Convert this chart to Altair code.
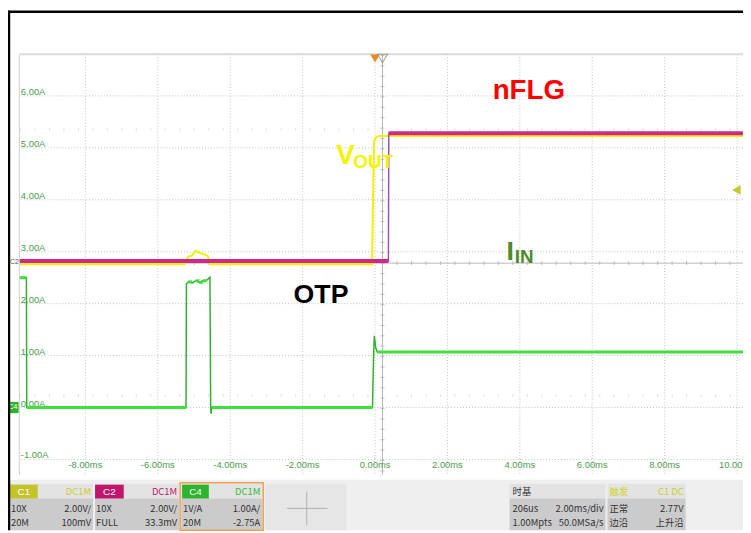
import altair as alt
import pandas as pd

# ---------------- data (time in ms, amplitude in C4 screen units = A) -------------
x_ticks = [-8, -6, -4, -2, 0, 2, 4, 6, 8, 10]
x_tick_labels = ["-8.00ms", "-6.00ms", "-4.00ms", "-2.00ms", "0.00ms",
                 "2.00ms", "4.00ms", "6.00ms", "8.00ms", "10.00ms"]
y_ticks = [6, 5, 4, 3, 2, 1, 0, -1]
y_tick_labels = ["6.00A", "5.00A", "4.00A", "3.00A", "2.00A", "1.00A", "0.00A", "-1.00A"]

# C2 : nFLG (magenta)
nflg_t = [-9.81, 0.37, 0.38, 10.16]
nflg_v = [2.82, 2.82, 5.28, 5.28]

# C1 : VOUT (yellow)
vout_t = [-9.81, -5.25, -5.17, -5.05, -4.95, -4.85, -4.72, -4.62, -4.55,
          -0.082, -0.05, -0.027, 0.02, 0.11, 10.16]
vout_v = [2.76, 2.76, 2.90, 2.93, 3.02, 2.98, 2.95, 2.92, 2.76,
          2.76, 4.20, 5.12, 5.20, 5.23, 5.23]

# C4 : IIN (green)
iin_t = [-9.81, -9.63, -9.62, -5.22, -5.21, -5.15, -5.05, -4.95, -4.85, -4.75,
         -4.65, -4.56, -4.54, -4.53, -4.51, -0.07, -0.04, -0.02, 0.02, 0.06, 10.16]
iin_v = [2.50, 2.50, 0.0, 0.0, 2.38, 2.42, 2.40, 2.44, 2.41, 2.44,
         2.45, 2.51, 0.0, -0.12, 0.0, 0.0, 1.00, 1.38, 1.15, 1.07, 1.07]

# annotations
ann_text = ["nFLG", "OTP", "V", "OUT", "I", "IN"]
ann_t = [3.25, -2.25, -1.07, -0.60, 3.63, 3.86]
ann_v = [5.94, 2.02, 4.686, 4.61, 2.84, 2.79]

# scope graticule
center_t = 0.206
center_v = 2.78
trigger_level_v = 4.19

# info panel texts
panel_left = ["10X", "20M", "10X", "FULL", "1V/A", "20M", "时基", "206us", "1.00Mpts", "正常", "边沿"]
panel_right = ["DC1M", "2.00V/", "100mV", "DC1M", "2.00V/", "33.3mV", "DC1M", "1.00A/", "-2.75A",
               "2.00ms/div", "50.0MSa/s", "C1 DC", "2.77V", "上升沿"]

FONT = "Liberation Sans, Arial, 'Noto Sans CJK SC', sans-serif"
CJK = "'Noto Sans CJK SC', Liberation Sans, sans-serif"

W, H = 731, 425
OX, OY = 20, 52   # page position of plot origin

xs = alt.Scale(domain=[-9.81, 10.164], nice=False, zero=False)
ys = alt.Scale(domain=[-1.295, 6.8], nice=False, zero=False)
X = lambda f: alt.X(f, type="quantitative", scale=xs, axis=None)
Y = lambda f: alt.Y(f, type="quantitative", scale=ys, axis=None)
X2 = lambda f: alt.X2(f)

def series(ts, vs):
    return pd.DataFrame({"t": ts, "v": vs, "i": range(len(ts))})

def flats(ts, vs, tol=0.03):
    rows = []
    for i in range(len(ts) - 1):
        if abs(vs[i + 1] - vs[i]) < tol and (ts[i + 1] - ts[i]) > 0.05:
            rows.append({"t0": ts[i], "t1": ts[i + 1], "v": vs[i]})
    return pd.DataFrame(rows)

# ---------------- graticule ----------------
vgrid = alt.Chart(pd.DataFrame({"t": x_ticks})).mark_rule(
    color="#c2c2c2", strokeDash=[1, 2], strokeWidth=1).encode(x=X("t"))
hgrid = alt.Chart(pd.DataFrame({"v": y_ticks})).mark_rule(
    color="#c2c2c2", strokeDash=[1, 2], strokeWidth=1).encode(y=Y("v"))

frame_top = alt.Chart(pd.DataFrame({"a": [0]})).mark_rule(color="#dadada", strokeWidth=2).encode(
    x=alt.value(0), x2=alt.value(W), y=alt.value(0))
frame_left = alt.Chart(pd.DataFrame({"a": [0]})).mark_rule(color="#d0d0d0", strokeWidth=1).encode(
    x=alt.value(-0.5), y=alt.value(0), y2=alt.value(H))

cen_h = alt.Chart(pd.DataFrame({"v": [center_v]})).mark_rule(color="#b8b8b8", strokeWidth=1).encode(y=Y("v"))
cen_v = alt.Chart(pd.DataFrame({"t": [center_t]})).mark_rule(color="#b8b8b8", strokeWidth=1).encode(x=X("t"))

htick_t = [center_t + 0.4 * k for k in range(-25, 25) if -9.8 < center_t + 0.4 * k < 10.16]
vtick_v = [center_v + 0.2 * k for k in range(-21, 21) if -1.29 < center_v + 0.2 * k < 6.8]
hticks = alt.Chart(pd.DataFrame({"t": htick_t, "v": [center_v] * len(htick_t)})).mark_point(
    shape="M0,-1L0,1", size=16, stroke="#a8a8a8", strokeWidth=1, filled=False).encode(x=X("t"), y=Y("v"))
vticks = alt.Chart(pd.DataFrame({"t": [center_t] * len(vtick_v), "v": vtick_v})).mark_point(
    shape="M-1,0L1,0", size=16, stroke="#a8a8a8", strokeWidth=1, filled=False).encode(x=X("t"), y=Y("v"))
faint_rows = pd.DataFrame({"t": htick_t * 2,
                           "v": [center_v + 2.57] * len(htick_t) + [center_v - 2.55] * len(htick_t)})
fticks = alt.Chart(faint_rows).mark_point(
    shape="M0,-1L0,1", size=9, stroke="#d4d4d4", strokeWidth=1, filled=False).encode(x=X("t"), y=Y("v"))

ylab = alt.Chart(pd.DataFrame({"v": y_ticks, "lab": y_tick_labels})).mark_text(
    align="left", baseline="alphabetic", dy=-1, font=FONT, fontSize=9.5, color="#4aa04a").encode(
    x=alt.value(1), y=Y("v"), text="lab:N")
xlab = alt.Chart(pd.DataFrame({"t": x_ticks, "lab": x_tick_labels})).mark_text(
    align="center", baseline="middle", font=FONT, fontSize=9.5, color="#4aa04a").encode(
    x=X("t"), y=alt.value(415), text="lab:N")

# ---------------- traces ----------------
vout_line = alt.Chart(series(vout_t, vout_v)).mark_line(color="#f2f200", strokeWidth=2).encode(
    x=X("t"), y=Y("v"), order="i:Q")
nflg_line = alt.Chart(series(nflg_t, nflg_v)).mark_line(color="#9a55a8", strokeWidth=1.5).encode(
    x=X("t"), y=Y("v"), order="i:Q")
nflg_flat = alt.Chart(flats(nflg_t, nflg_v)).mark_rule(color="#cf2a8a", strokeWidth=4).encode(
    x=X("t0"), x2=X2("t1"), y=Y("v"))
iin_line = alt.Chart(series(iin_t, iin_v)).mark_line(color="#30b030", strokeWidth=1.5).encode(
    x=X("t"), y=Y("v"), order="i:Q")
iin_flat = alt.Chart(flats(iin_t, iin_v)).mark_rule(color="#3ee03e", strokeWidth=3).encode(
    x=X("t0"), x2=X2("t1"), y=Y("v"))

# markers
trig = alt.Chart(pd.DataFrame({"t": [0.0], "v": [6.72]})).mark_point(
    shape="triangle-down", size=90, filled=True, color="#f08a20", opacity=1).encode(x=X("t"), y=Y("v"))
trig2 = alt.Chart(pd.DataFrame({"t": [center_t], "v": [6.72]})).mark_point(
    shape="triangle-down", size=100, filled=False, stroke="#8f9070", strokeWidth=1.2).encode(x=X("t"), y=Y("v"))
lvl = alt.Chart(pd.DataFrame({"t": [9.98], "v": [trigger_level_v]})).mark_point(
    shape="triangle-left", size=100, filled=True, color="#c8c832", opacity=1).encode(x=X("t"), y=Y("v"))
c2mark = alt.Chart(pd.DataFrame({"v": [2.80], "lab": ["C2"]})).mark_text(
    align="left", baseline="middle", font=FONT, fontSize=7, color="#555555").encode(
    x=alt.value(-10), y=Y("v"), text="lab:N")
c4chip = alt.Chart(pd.DataFrame({"v": [0.0]})).mark_square(size=130, color="#2cb52c", opacity=1).encode(
    x=alt.value(-7), y=Y("v"))
c4text = alt.Chart(pd.DataFrame({"v": [0.0], "lab": ["C4"]})).mark_text(
    align="center", baseline="middle", font=FONT, fontSize=7, color="white").encode(
    x=alt.value(-7), y=Y("v"), text="lab:N")

# annotations
ann = pd.DataFrame({"t": ann_t, "v": ann_v, "lab": ann_text})
def ann_layer(i, size, color):
    return alt.Chart(ann.iloc[[i]]).mark_text(
        align="left", baseline="alphabetic", font=FONT, fontWeight="bold", fontSize=size, color=color).encode(
        x=X("t"), y=Y("v"), text="lab:N")

anns = [ann_layer(0, 28, "#ff0000"), ann_layer(1, 27, "#000000"),
        ann_layer(2, 28, "#f4f400"), ann_layer(3, 19, "#f4f400"),
        ann_layer(4, 27, "#4c8a2c"), ann_layer(5, 19, "#4c8a2c")]

# ---------------- border & info panel (page pixel layout) ----------------
rects = pd.DataFrame([
    # x0, x1, y0, y1, fill  (page px)
    (8, 751, 482, 533, "#efefef"),
    (10, 94, 486, 501, "#e3e3e3"), (10, 94, 501, 533, "#cbcbcb"),
    (96, 181, 486, 501, "#e3e3e3"), (96, 181, 501, 533, "#cbcbcb"),
    (183, 265, 486, 501, "#e3e3e3"), (183, 265, 501, 533, "#cbcbcb"),
    (268, 350, 486, 533, "#e6e6e6"),
    (515, 612, 486, 501, "#e3e3e3"), (515, 612, 501, 533, "#cbcbcb"),
    (614, 693, 486, 501, "#e3e3e3"), (614, 693, 501, 533, "#cbcbcb"),
    (10, 38, 487, 501, "#c4c42a"), (96, 125, 487, 501, "#c2166c"), (184, 211, 487, 501, "#2cb52c"),
], columns=["x0", "x1", "y0", "y1", "fill"])
for c in ["x0", "x1"]:
    rects[c] = rects[c] - OX
for c in ["y0", "y1"]:
    rects[c] = rects[c] - OY
panel_rects = alt.Chart(rects).mark_rect(opacity=1).encode(
    x=alt.X("x0:Q", scale=None, axis=None), x2="x1:Q",
    y=alt.Y("y0:Q", scale=None, axis=None), y2="y1:Q",
    fill=alt.Fill("fill:N", scale=None, legend=None))

c4border = alt.Chart(pd.DataFrame({"a": [0]})).mark_rect(
    fill=None, stroke="#f0a050", strokeWidth=1.5, filled=False).encode(
    x=alt.value(182 - OX), x2=alt.value(266 - OX), y=alt.value(485 - OY), y2=alt.value(533 - OY))
cross_h = alt.Chart(pd.DataFrame({"a": [0]})).mark_rule(color="#b0b0b0", strokeWidth=1).encode(
    x=alt.value(290 - OX), x2=alt.value(331 - OX), y=alt.value(511 - OY))
cross_v = alt.Chart(pd.DataFrame({"a": [0]})).mark_rule(color="#b0b0b0", strokeWidth=1).encode(
    x=alt.value(310 - OX), y=alt.value(494 - OY), y2=alt.value(528 - OY))

left_x = [11, 11, 97, 97, 185, 185, 518, 518, 518, 616, 616]
left_y = [512, 526, 512, 526, 512, 526, 494, 512, 526, 512, 526]
right_x = [92, 92, 92, 179, 179, 179, 263, 263, 263, 610, 610, 691, 691, 691]
right_y = [494, 512, 526, 494, 512, 526, 494, 512, 526, 512, 526, 494, 512, 526]
right_c = ["#cfcf2a", "#333333", "#333333", "#c2166c", "#333333", "#333333", "#33bb33", "#333333", "#333333",
           "#333333", "#333333", "#cfcf1a", "#333333", "#333333"]

ltxt = pd.DataFrame({"x": [v - OX for v in left_x], "y": [v - OY for v in left_y], "lab": panel_left,
                     "c": ["#333333"] * len(panel_left)})
rtxt = pd.DataFrame({"x": [v - OX for v in right_x], "y": [v - OY for v in right_y], "lab": panel_right,
                     "c": right_c})
lt = alt.Chart(ltxt).mark_text(align="left", baseline="middle", font=CJK, fontSize=9.5).encode(
    x=alt.X("x:Q", scale=None, axis=None), y=alt.Y("y:Q", scale=None, axis=None), text="lab:N",
    color=alt.Color("c:N", scale=None, legend=None))
rt = alt.Chart(rtxt).mark_text(align="right", baseline="middle", font=CJK, fontSize=9.5).encode(
    x=alt.X("x:Q", scale=None, axis=None), y=alt.Y("y:Q", scale=None, axis=None), text="lab:N",
    color=alt.Color("c:N", scale=None, legend=None))
trig_hdr = alt.Chart(pd.DataFrame({"x": [616 - OX], "y": [494 - OY], "lab": ["触发"]})).mark_text(
    align="left", baseline="middle", font=CJK, fontSize=9.5, color="#d2d21a").encode(
    x=alt.X("x:Q", scale=None, axis=None), y=alt.Y("y:Q", scale=None, axis=None), text="lab:N")
chips = alt.Chart(pd.DataFrame({"x": [24 - OX, 110.5 - OX, 197.5 - OX], "y": [494 - OY] * 3,
                                "lab": ["C1", "C2", "C4"]})).mark_text(
    align="center", baseline="middle", font=FONT, fontSize=10, color="white").encode(
    x=alt.X("x:Q", scale=None, axis=None), y=alt.Y("y:Q", scale=None, axis=None), text="lab:N")

border_top = alt.Chart(pd.DataFrame({"a": [0]})).mark_rule(color="#000000", strokeWidth=2.5).encode(
    x=alt.value(-12), x2=alt.value(W), y=alt.value(-43))
border_left = alt.Chart(pd.DataFrame({"a": [0]})).mark_rule(color="#000000", strokeWidth=2.5).encode(
    x=alt.value(-11), y=alt.value(-44), y2=alt.value(533 - OY))

chart = alt.layer(
    vgrid, hgrid, frame_top, frame_left, fticks, cen_h, cen_v, hticks, vticks,
    ylab, xlab,
    vout_line, nflg_line, nflg_flat, iin_line, iin_flat,
    trig, trig2, lvl, c2mark, c4chip, c4text,
    *anns,
    panel_rects, c4border, cross_h, cross_v, lt, rt, trig_hdr, chips,
    border_top, border_left,
).properties(
    width=W, height=H,
    padding={"left": 12, "top": 44, "right": 0, "bottom": 56},
    autosize=alt.AutoSizeParams(type="none"),
    background="white",
).configure_view(stroke=None)

chart.save("out.html", embed_options={"renderer": "svg", "actions": False})
